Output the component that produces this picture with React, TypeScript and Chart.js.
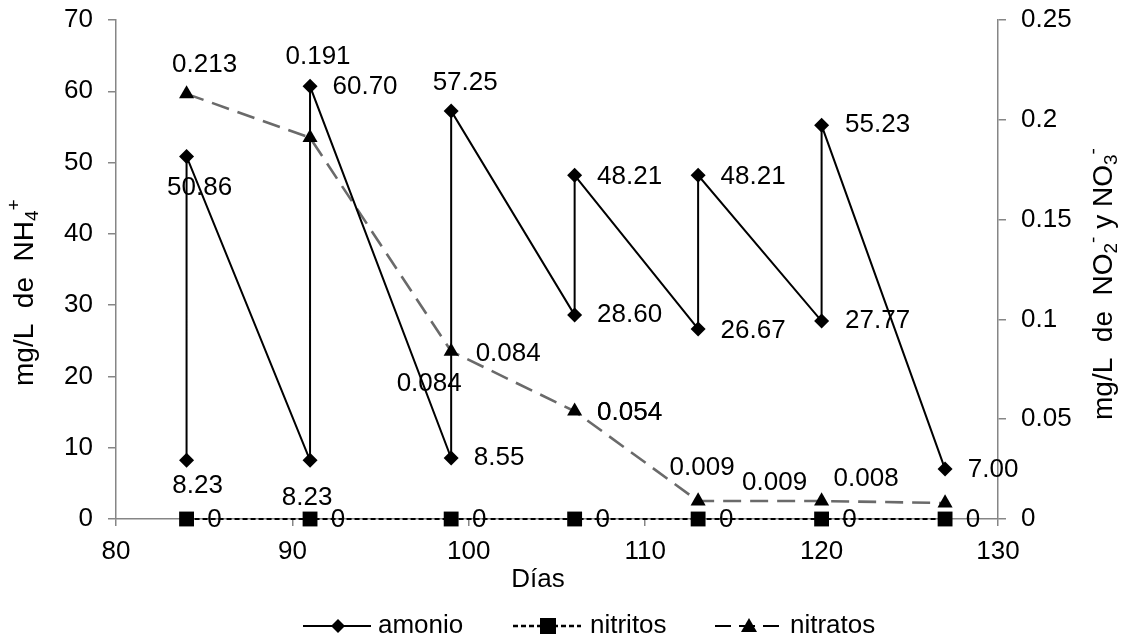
import React, { useEffect, useRef } from "react";
import { Chart, registerables } from "chart.js";

Chart.register(...registerables);

// ---- data ----
const days = [84, 91, 99, 106, 113, 120, 127];
const amonioDays = [84, 84, 91, 91, 99, 99, 106, 106, 113, 113, 120, 120, 127];
const amonioValues = [8.23, 50.86, 8.23, 60.7, 8.55, 57.25, 28.6, 48.21, 26.67, 48.21, 27.77, 55.23, 7.0];
const nitritosValues = [0, 0, 0, 0, 0, 0, 0];
const nitratosValues = [0.213, 0.191, 0.084, 0.054, 0.009, 0.009, 0.008];
const xTickValues = [80, 90, 100, 110, 120, 130];
const leftTickValues = [0, 10, 20, 30, 40, 50, 60, 70];
const rightTickValues = [0, 0.05, 0.1, 0.15, 0.2, 0.25];
const seriesNames = ["amonio", "nitritos", "nitratos"];

// ---- label layout (pixel offsets of each data label from its point) ----
const amonioLabelOffsets = [
  [11, 25], [13, 31], [-3, 37], [55, 1], [48, 0], [14, -28], [55, 0],
  [55, 1], [55, 2], [55, 1], [56, 0], [56, 0], [48, 1],
];
const nitritosLabelOffset = [28, 1];
const nitratosLabelOffsets = [[18, -29], [8, -81], [57, 2], [55, 2], [4, -33], [-47, -18], [-79, -24]];
const nitratosExtraLabels = [
  { index: 2, dx: -22, dy: 32 },
  { index: 3, dx: 55, dy: 2 },
];

const FONT = '"Liberation Sans", Arial, sans-serif';
const FS = 26;
const TITLE_FS = 28;
const AXIS_GRAY = "#868686";

function drawRich(ctx: CanvasRenderingContext2D, x: number, y: number, parts: { t: string; sub?: boolean; sup?: boolean }[]) {
  ctx.save();
  ctx.translate(x, y);
  ctx.rotate(-Math.PI / 2);
  ctx.textAlign = "left";
  ctx.textBaseline = "alphabetic";
  ctx.fillStyle = "#000";
  let cx = 0;
  for (const p of parts) {
    const size = p.sub || p.sup ? 19 : TITLE_FS;
    ctx.font = `${size}px ${FONT}`;
    const shift = p.sub ? 5 : p.sup ? -13 : 0;
    ctx.fillText(p.t, cx, shift);
    cx += ctx.measureText(p.t).width;
  }
  ctx.restore();
}

const overlayPlugin = {
  id: "overlay",
  afterDraw(chart: any) {
    const ctx: CanvasRenderingContext2D = chart.ctx;
    const xs = chart.scales.x;
    const yl = chart.scales.y;
    const yr = chart.scales.y1;
    ctx.save();
    ctx.fillStyle = "#000";
    ctx.font = `${FS}px ${FONT}`;
    ctx.textAlign = "center";
    ctx.textBaseline = "middle";
    amonioValues.forEach((v, i) => {
      const px = xs.getPixelForValue(amonioDays[i]);
      const py = yl.getPixelForValue(v);
      const [dx, dy] = amonioLabelOffsets[i];
      ctx.fillText(v.toFixed(2), px + dx, py + dy);
    });
    nitritosValues.forEach((v, i) => {
      const px = xs.getPixelForValue(days[i]);
      const py = yr.getPixelForValue(v);
      ctx.fillText(String(v), px + nitritosLabelOffset[0], py + nitritosLabelOffset[1]);
    });
    nitratosValues.forEach((v, i) => {
      const px = xs.getPixelForValue(days[i]);
      const py = yr.getPixelForValue(v);
      const [dx, dy] = nitratosLabelOffsets[i];
      ctx.fillText(v.toFixed(3), px + dx, py + dy);
    });
    nitratosExtraLabels.forEach((l) => {
      const px = xs.getPixelForValue(days[l.index]);
      const py = yr.getPixelForValue(nitratosValues[l.index]);
      ctx.fillText(nitratosValues[l.index].toFixed(3), px + l.dx, py + l.dy);
    });

    ctx.fillText("Días", 538, 580);

    // legend
    const ly = 626;
    ctx.lineWidth = 2;
    ctx.strokeStyle = "#000";
    ctx.setLineDash([]);
    ctx.beginPath();
    ctx.moveTo(303, ly);
    ctx.lineTo(371, ly);
    ctx.stroke();
    ctx.beginPath();
    ctx.moveTo(338, ly - 7);
    ctx.lineTo(345, ly);
    ctx.lineTo(338, ly + 7);
    ctx.lineTo(331, ly);
    ctx.closePath();
    ctx.fill();
    ctx.setLineDash([5, 3]);
    ctx.lineWidth = 2.5;
    ctx.beginPath();
    ctx.moveTo(513, ly);
    ctx.lineTo(581, ly);
    ctx.stroke();
    ctx.setLineDash([]);
    ctx.fillRect(540, ly - 8, 16, 16);
    ctx.lineWidth = 2;
    ctx.setLineDash([16, 8]);
    ctx.beginPath();
    ctx.moveTo(715, ly);
    ctx.lineTo(783, ly);
    ctx.stroke();
    ctx.setLineDash([]);
    ctx.beginPath();
    ctx.moveTo(749, ly - 8);
    ctx.lineTo(757, ly + 6);
    ctx.lineTo(741, ly + 6);
    ctx.closePath();
    ctx.fill();
    ctx.textAlign = "left";
    ctx.fillText(seriesNames[0], 378, ly);
    ctx.fillText(seriesNames[1], 590, ly);
    ctx.fillText(seriesNames[2], 790, ly);
    ctx.restore();

    drawRich(ctx, 33, 386, [{ t: "mg/L  de  NH" }, { t: "4", sub: true }, { t: "+", sup: true }]);
    drawRich(ctx, 1112, 420, [
      { t: "mg/L  de  NO" },
      { t: "2", sub: true },
      { t: "-", sup: true },
      { t: " y NO" },
      { t: "3", sub: true },
      { t: "-", sup: true },
    ]);
  },
};

export default function App() {
  const ref = useRef<HTMLCanvasElement | null>(null);
  useEffect(() => {
    if (!ref.current) return;
    Chart.defaults.font.family = FONT;
    Chart.defaults.font.size = FS;
    Chart.defaults.color = "#000";
    const gridOpts = {
      display: true,
      drawOnChartArea: false,
      drawTicks: true,
      tickLength: 8,
      color: AXIS_GRAY,
      lineWidth: 1.5,
    };
    const borderOpts = { display: true, color: AXIS_GRAY, width: 1.5 };
    const zeroPad = (s: any) => {
      s.paddingTop = 0;
      s.paddingBottom = 0;
      s.paddingLeft = 0;
      s.paddingRight = 0;
    };
    const nitratosDash = [18, 9];
    const nitritosDash = [5, 3];
    const chart = new Chart(ref.current, {
      type: "line",
      data: {
        datasets: [
          {
            label: "nitratos",
            data: days.map((d, i) => ({ x: d, y: nitratosValues[i] })),
            yAxisID: "y1",
            showLine: false,
            clip: false,
            pointStyle: "triangle",
            pointRadius: 8.7,
            pointBackgroundColor: "#000",
            pointBorderColor: "#000",
            pointBorderWidth: 0,
          },
          {
            label: "nitritos",
            data: days.map((d, i) => ({ x: d, y: nitritosValues[i] })),
            yAxisID: "y1",
            clip: false,
            borderColor: "#000",
            borderWidth: 2.2,
            borderDash: nitritosDash,
            segment: { borderDash: () => nitritosDash },
            pointStyle: "rect",
            pointRadius: 10.5,
            pointBackgroundColor: "#000",
            pointBorderColor: "#000",
            pointBorderWidth: 0,
          },
          {
            label: "amonio",
            data: amonioDays.map((d, i) => ({ x: d, y: amonioValues[i] })),
            yAxisID: "y",
            clip: false,
            borderColor: "#000",
            borderWidth: 2,
            pointStyle: "rectRot",
            pointRadius: 7.5,
            pointBackgroundColor: "#000",
            pointBorderColor: "#000",
            pointBorderWidth: 0,
          },
          {
            label: "nitratos-line",
            data: days.map((d, i) => ({ x: d, y: nitratosValues[i] })),
            yAxisID: "y1",
            clip: false,
            borderColor: "#6a6a6a",
            borderWidth: 2.6,
            borderDash: nitratosDash,
            segment: { borderDash: () => nitratosDash },
            pointRadius: 0,
          },
        ],
      },
      options: {
        responsive: false,
        animation: false,
        layout: { padding: { top: 20, left: 0, right: 0, bottom: 0 } },
        plugins: { legend: { display: false }, tooltip: { enabled: false }, title: { display: false } },
        scales: {
          x: {
            type: "linear",
            min: 80,
            max: 130,
            afterBuildTicks: (s: any) => {
              s.ticks = xTickValues.map((v) => ({ value: v }));
            },
            ticks: { padding: 10, color: "#000", font: { size: FS } },
            grid: { ...gridOpts, tickLength: 7 },
            border: borderOpts,
            afterFit: (s: any) => {
              s.height = 125;
              zeroPad(s);
            },
          },
          y: {
            type: "linear",
            position: "left",
            min: 0,
            max: 70,
            afterBuildTicks: (s: any) => {
              s.ticks = leftTickValues.map((v) => ({ value: v }));
            },
            ticks: { padding: 15, color: "#000", font: { size: FS } },
            grid: gridOpts,
            border: borderOpts,
            afterFit: (s: any) => {
              s.width = 116;
              zeroPad(s);
            },
          },
          y1: {
            type: "linear",
            position: "right",
            min: 0,
            max: 0.25,
            afterBuildTicks: (s: any) => {
              s.ticks = rightTickValues.map((v) => ({ value: v }));
            },
            ticks: {
              padding: 15,
              color: "#000",
              font: { size: FS },
              callback: (v: any) => String(Number(Number(v).toFixed(2))),
            },
            grid: gridOpts,
            border: borderOpts,
            afterFit: (s: any) => {
              s.width = 123;
              zeroPad(s);
            },
          },
        },
      },
      plugins: [overlayPlugin],
    } as any);
    return () => chart.destroy();
  }, []);
  return (
    <div style={{ position: "fixed", left: 0, top: 0, width: 1121, height: 644, background: "#fff" }}>
      <canvas ref={ref} width={1121} height={644} style={{ width: 1121, height: 644, display: "block" }} />
    </div>
  );
}
